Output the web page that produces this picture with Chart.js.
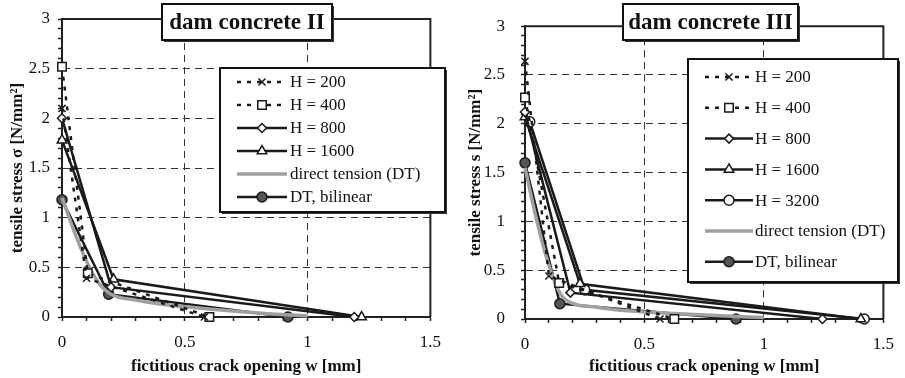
<!DOCTYPE html>
<html>
<head>
<meta charset="utf-8">
<title>Fictitious crack opening vs tensile stress</title>
<script src="https://cdn.jsdelivr.net/npm/chart.js@4.4.1/dist/chart.umd.min.js"></script>
<style>
  html, body { margin: 0; padding: 0; background: #fff; }
  #wrap { position: relative; width: 905px; height: 378px; overflow: hidden; }
  canvas { position: absolute; top: 0; }
  #chartII { left: 0; }
  #chartIII { left: 452px; }
</style>
</head>
<body>
<div id="wrap">
  <canvas id="chartII" width="452" height="378"></canvas>
  <canvas id="chartIII" width="453" height="378"></canvas>
</div>
<script>
// ---- data: [w (mm), stress (N/mm2)] ----
const xTickLabels = ['0', '0.5', '1', '1.5'];
const yTickLabels = ['0', '0.5', '1', '1.5', '2', '2.5', '3'];

// dam concrete II
const h200II = [[0, 2.1], [0.1, 0.39], [0.58, 0]];
const h400II = [[0, 2.52], [0.105, 0.44], [0.6, 0]];
const h800II = [[0, 2.0], [0.2, 0.3], [1.19, 0]];
const h1600II = [[0, 1.78], [0.21, 0.38], [1.22, 0]];
const dtII = [[0, 1.2], [0.05, 0.86], [0.1, 0.56], [0.15, 0.34], [0.2, 0.23], [0.3, 0.17],
  [0.4, 0.13], [0.6, 0.08], [0.8, 0.04], [1.0, 0.01]];
const bilinII = [[0, 1.18], [0.19, 0.23], [0.92, 0]];

// dam concrete III
const h200III = [[0, 2.64], [0.1, 0.44], [0.565, 0]];
const h400III = [[0, 2.27], [0.143, 0.37], [0.625, 0]];
const h800III = [[0, 2.12], [0.19, 0.27], [1.245, 0]];
const h1600III = [[0, 2.07], [0.23, 0.36], [1.406, 0]];
const h3200III = [[0.02, 2.02], [0.25, 0.3], [1.42, 0]];
const dtIII = [[0, 1.55], [0.05, 1.0], [0.1, 0.55], [0.15, 0.25], [0.2, 0.16], [0.3, 0.12],
  [0.4, 0.09], [0.6, 0.06], [0.8, 0.035], [1.0, 0.015]];
const bilinIII = [[0, 1.6], [0.146, 0.157], [0.883, 0]];

// ---- styles ----
const INK = '#1a1a1a';
const GRAY = '#a0a0a0';
const FONT = '"Liberation Serif", "Times New Roman", serif';

const seriesStyle = {
  'H = 200': { color: INK, width: 2.5, dash: [4, 6], point: 'crossRot', radius: 5, fill: '#fff' },
  'H = 400': { color: INK, width: 2.5, dash: [4, 6], point: 'rect', radius: 6, fill: '#fff' },
  'H = 800': { color: INK, width: 2.5, dash: [], point: 'rectRot', radius: 4.5, fill: '#fff' },
  'H = 1600': { color: INK, width: 2.5, dash: [], point: 'triangle', radius: 5.5, fill: '#fff' },
  'H = 3200': { color: INK, width: 2.5, dash: [], point: 'circle', radius: 5, fill: '#fff' },
  'direct tension (DT)': { color: GRAY, width: 3.5, dash: [], point: false, radius: 0, fill: GRAY, smooth: true },
  'DT, bilinear': { color: INK, width: 2.5, dash: [], point: 'circle', radius: 5, fill: '#555' }
};

function makeDataset(label, pairs) {
  const st = seriesStyle[label];
  return {
    label: label,
    data: pairs.map(([x, y]) => ({ x: x, y: y })),
    borderColor: st.color,
    borderWidth: st.width,
    borderDash: st.dash,
    pointStyle: st.point,
    pointRadius: st.radius,
    pointBorderWidth: 1.5,
    pointBorderColor: INK,
    pointBackgroundColor: st.fill,
    cubicInterpolationMode: st.smooth ? 'monotone' : 'default',
    tension: 0,
    fill: false,
    clip: false
  };
}

// draws the plot frame, the boxed title and the boxed legend
const panelDecor = {
  id: 'panelDecor',
  afterDraw(chart, args, opts) {
    const { ctx, chartArea: a } = chart;
    ctx.save();

    // top and right edges of the frame
    ctx.strokeStyle = '#222';
    ctx.lineWidth = 2;
    ctx.beginPath();
    ctx.moveTo(a.left, a.top);
    ctx.lineTo(a.right, a.top);
    ctx.lineTo(a.right, a.bottom);
    ctx.stroke();

    const box = (b) => {
      ctx.fillStyle = '#333';
      ctx.fillRect(b.x + 2, b.y + 2, b.w, b.h);
      ctx.fillStyle = '#fff';
      ctx.fillRect(b.x, b.y, b.w, b.h);
      ctx.strokeStyle = '#111';
      ctx.lineWidth = 2;
      ctx.strokeRect(b.x, b.y, b.w, b.h);
    };

    // title box
    const t = opts.titleBox;
    box(t);
    ctx.fillStyle = '#111';
    ctx.font = 'bold 23px ' + FONT;
    ctx.textAlign = 'center';
    ctx.textBaseline = 'middle';
    ctx.fillText(opts.title, t.x + t.w / 2, t.y + t.h / 2 + 1);

    // legend
    const l = opts.legend;
    box(l);
    ctx.textAlign = 'left';
    ctx.font = '17px ' + FONT;
    chart.data.datasets.forEach((ds, i) => {
      const y = l.rowY + i * l.rowGap;
      ctx.strokeStyle = ds.borderColor;
      ctx.lineWidth = ds.borderWidth;
      ctx.setLineDash(ds.borderDash);
      ctx.beginPath();
      ctx.moveTo(l.x0, y);
      ctx.lineTo(l.x1, y);
      ctx.stroke();
      ctx.setLineDash([]);
      if (ds.pointStyle) {
        ctx.fillStyle = ds.pointBackgroundColor;
        ctx.strokeStyle = ds.pointBorderColor;
        ctx.lineWidth = ds.pointBorderWidth;
        Chart.helpers.drawPoint(ctx, {
          pointStyle: ds.pointStyle, radius: ds.pointRadius, rotation: 0, borderWidth: ds.pointBorderWidth
        }, (l.x0 + l.x1) / 2, y);
      }
      ctx.fillStyle = '#111';
      ctx.fillText(ds.label, l.textX, y + 1);
    });

    ctx.restore();
  }
};

function makeScales(g) {
  const tickFont = { family: FONT, size: 17 };
  const titleFont = { family: FONT, size: 17, weight: 'bold' };
  const gridColor = (c, last) => {
    const i = Math.round(c.tick.value * 10);
    return (i % 5 === 0 && i > 0 && i < last) ? '#333' : 'rgba(0,0,0,0)';
  };
  return {
    x: {
      type: 'linear',
      min: 0,
      max: 1.5,
      afterFit: (s) => { s.height = g.h - g.bottom; },
      ticks: {
        stepSize: 0.1,
        autoSkip: false,
        maxRotation: 0,
        padding: 11,
        color: '#111',
        font: tickFont,
        callback: (v) => {
          const i = Math.round(v * 10);
          return i % 5 === 0 ? xTickLabels[i / 5] : '';
        }
      },
      grid: { color: (c) => gridColor(c, 15), lineWidth: 1, tickLength: 4, tickColor: '#222', tickWidth: 1.5 },
      border: { color: '#222', width: 2, dash: [7, 5] },
      title: {
        display: true,
        text: 'fictitious crack opening w [mm]',
        color: '#111',
        font: titleFont,
        padding: { top: 0, bottom: 1 }
      }
    },
    y: {
      type: 'linear',
      min: 0,
      max: 3,
      afterFit: (s) => { s.width = g.left; },
      ticks: {
        stepSize: 0.1,
        autoSkip: false,
        padding: g.yPad,
        color: '#111',
        font: tickFont,
        callback: (v) => {
          const i = Math.round(v * 10);
          return i % 5 === 0 ? yTickLabels[i / 5] : '';
        }
      },
      grid: { color: (c) => gridColor(c, 30), lineWidth: 1, tickLength: 4, tickColor: '#222', tickWidth: 1.5 },
      border: { color: '#222', width: 2, dash: [7, 5] },
      title: {
        display: true,
        text: g.yTitle,
        color: '#111',
        font: titleFont,
        padding: { top: g.yTitlePad, bottom: 0 }
      }
    }
  };
}

function makeChart(canvasId, datasets, g, decor) {
  const canvas = document.getElementById(canvasId);
  return new Chart(canvas.getContext('2d'), {
    type: 'line',
    data: { datasets: datasets },
    options: {
      responsive: false,
      animation: false,
      events: [],
      layout: { padding: { top: g.top, right: g.w - g.right, left: 0, bottom: 0 } },
      scales: makeScales(g),
      plugins: {
        legend: { display: false },
        tooltip: { enabled: false },
        panelDecor: decor
      }
    },
    plugins: [panelDecor]
  });
}

makeChart('chartII', [
  makeDataset('H = 200', h200II),
  makeDataset('H = 400', h400II),
  makeDataset('H = 800', h800II),
  makeDataset('H = 1600', h1600II),
  makeDataset('direct tension (DT)', dtII),
  makeDataset('DT, bilinear', bilinII)
], {
  w: 452, h: 378, left: 62, right: 432, top: 19, bottom: 317,
  yPad: 8, yTitlePad: 7, yTitle: 'tensile stress σ [N/mm²]'
}, {
  title: 'dam concrete II',
  titleBox: { x: 162, y: 4, w: 170, h: 36 },
  legend: { x: 220, y: 68, w: 225, h: 144, rowY: 82, rowGap: 23, x0: 237, x1: 287, textX: 290 }
});

makeChart('chartIII', [
  makeDataset('H = 200', h200III),
  makeDataset('H = 400', h400III),
  makeDataset('H = 800', h800III),
  makeDataset('H = 1600', h1600III),
  makeDataset('H = 3200', h3200III),
  makeDataset('direct tension (DT)', dtIII),
  makeDataset('DT, bilinear', bilinIII)
], {
  w: 453, h: 378, left: 73, right: 441, top: 19, bottom: 319,
  yPad: 16, yTitlePad: 13, yTitle: 'tensile stress s [N/mm²]'
}, {
  title: 'dam concrete III',
  titleBox: { x: 171, y: 4, w: 175, h: 36 },
  legend: { x: 236, y: 59, w: 210, h: 223, rowY: 77, rowGap: 30.8, x0: 253, x1: 301, textX: 303 }
});
</script>
</body>
</html>
